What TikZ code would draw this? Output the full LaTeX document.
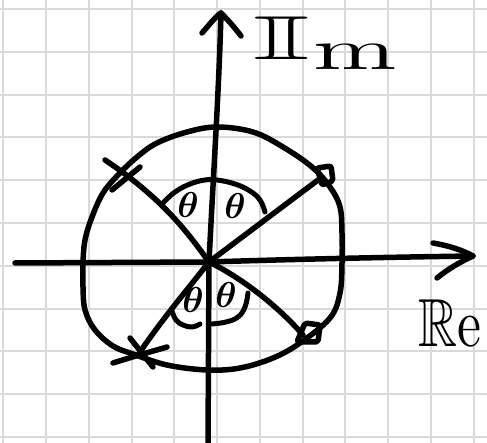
\documentclass[tikz,border=0pt]{standalone}
\usepackage{amssymb}
\definecolor{gridgray}{HTML}{D9D9D9}
\newcommand{\bth}{\scalebox{3.6}{\boldmath$\theta$}}
\begin{document}
\begin{tikzpicture}[x=1pt,y=-1pt,
  pen/.style={line width=5.5pt, line cap=round, line join=round, black},
  thinpen/.style={pen, line width=5pt},
  gridline/.style={line width=2pt, color=gridgray},
  thetalabel/.style={inner sep=0pt},
  axislabel/.style={inner sep=0pt, anchor=base west}]
\useasboundingbox (0,0) rectangle (487,443);
\fill[white] (0,0) rectangle (487,443);
\foreach \k in {0,...,11} \draw[gridline] ({3.3+42.76*\k},0) -- ({3.3+42.76*\k},443);
\foreach \k in {0,...,10} \draw[gridline] (0,{9+42.8*\k}) -- (487,{9+42.8*\k});

% key points
\coordinate (O) at (209,262);
\coordinate (ytop) at (221,13);
\coordinate (ybot) at (208,443);
\coordinate (xl) at (15,263);
\coordinate (xr) at (473,256);
\coordinate (XUL) at (105,160);
\coordinate (SQUR) at (318,180);
\coordinate (SQLR) at (303,335);
\coordinate (XLL) at (138,355);

% axes
\draw[pen] (ybot) -- (O) .. controls (213,180) and (219,90) .. (ytop);
\draw[pen] (202,33) .. controls (210,24) and (216,16) .. (ytop) .. controls (228,20) and (235,28) .. (241,36);
\draw[pen] (xl) -- (O) .. controls (300,259) and (400,257) .. (xr);
\draw[pen] (433,243) .. controls (450,246) and (462,250) .. (xr) .. controls (460,262) and (448,269) .. (437,278);

% circle
\draw[pen] plot[smooth cycle, tension=0.6] coordinates {
 (217,127) (253,132) (283,147) (312,167) (330,187) (340,207) (342,233) (342,263)
 (340,293) (330,318) (300,343) (273,358) (240,368) (207,370) (167,365) (133,354)
 (113,346) (95,330) (85,310) (83,287) (83,263) (85,240) (92,217) (103,193)
 (118,175) (137,157) (157,143) (187,132)};

% spokes
\draw[pen] (O) .. controls (190,236) and (165,200) .. (XUL);
\draw[pen] (O) -- (SQUR);
\draw[pen] (O) .. controls (240,277) and (277,305) .. (SQLR);
\draw[pen] (O) .. controls (187,290) and (160,322) .. (XLL);

% markers
\draw[pen] (112,190) -- (140,167);
\draw[pen] (130,338) -- (153,367);
\draw[pen] (113,363) .. controls (135,356) and (150,352) .. (167,347);
\draw[pen, rounded corners=2pt] (317,168) -- (331,166) -- (333,181) -- (322,185) -- cycle;
\draw[pen, rounded corners=2pt] (305,323) -- (320,325) -- (318,342) -- (297,342) -- cycle;

% angle arcs
\draw[thinpen] plot[smooth, tension=0.7] coordinates {(163,203) (175,192) (190,184) (205,180) (217,180) (235,184) (250,191) (260,200) (265,212)};
\draw[thinpen] plot[smooth, tension=0.7] coordinates {(172,311) (176,320) (183,325) (192,327) (200,324)};
\draw[thinpen] plot[smooth, tension=0.7] coordinates {(212,324) (226,322) (238,317) (245,307) (248,293)};

% theta labels
\node[thetalabel] (t1) at (188,205) {\bth};
\node[thetalabel] (t2) at (235,206) {\bth};
\node[thetalabel] (t3) at (193,300) {\bth};
\node[thetalabel] (t4) at (226,295) {\bth};

% axis labels
\node[axislabel] (imI) at (252,60) {\scalebox{15}[6.2]{$\mathbb{I}$}};
\node[axislabel] (imm) at (313,70) {\scalebox{10}[5.8]{m}};
\node[axislabel] (re) at (418,347) {\scalebox{5.4}[6.8]{$\mathbb{R}$e}};
\end{tikzpicture}
\end{document}
